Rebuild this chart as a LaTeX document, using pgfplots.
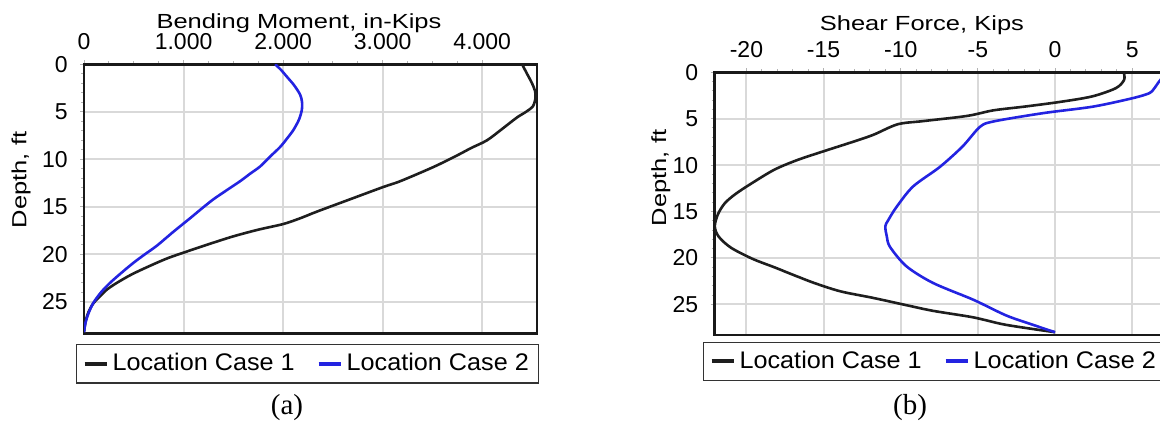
\documentclass[border=0pt]{standalone}
\usepackage{pgfplots}
\pgfplotsset{compat=1.18}
\usepackage{fontspec}
\setmainfont{Liberation Sans}
\newfontfamily\titlefont{Liberation Sans}[FakeStretch=1.25]
\newfontfamily\legfont{Liberation Sans}[FakeStretch=1.05]
\newfontfamily\capfont{Liberation Serif}
\definecolor{curveblue}{RGB}{35,35,225}
\definecolor{curveblack}{RGB}{30,30,30}
\pgfplotsset{
  myaxis/.style={
    scale only axis,
    y dir=reverse,
    ymin=0, ymax=28.3,
    ytick={0,5,10,15,20,25},
    yticklabels={0,5,10,15,20,25},
    xticklabel pos=right,
    xtick pos=right, ytick pos=left,
    tick align=outside,
    minor y tick num=4,
    grid=major,
    major grid style={gray!30, line width=1pt},
    axis line style={line width=1.3pt, black!90},
    major tick length=2pt, minor tick length=1.5pt,
    tick style={gray!60, line width=0.5pt},
    ticklabel style={font=\fontsize{11.5}{13}\selectfont, inner sep=0pt},
    xticklabel style={anchor=base, yshift=5.2pt},
    yticklabel style={anchor=east, xshift=-6pt},
    label style={font=\titlefont\fontsize{10.2}{12}\selectfont},
    legend columns=2,
    legend image code/.code={\draw[#1, line width=2pt] (0pt,0pt) -- (11pt,0pt);},
    legend style={draw=black!80, line width=0.6pt, font=\legfont\fontsize{12}{14}\selectfont,
      inner xsep=3pt, inner ysep=2.5pt, anchor=north west,
      /tikz/every even column/.append style={column sep=9pt}, cells={anchor=west}},
    every axis plot/.append style={smooth, tension=0.5, line width=1.3pt},
  }
}
\begin{document}
\begin{tikzpicture}
\useasboundingbox (0,0) rectangle (580pt,210.5pt);
\clip (0,0) rectangle (580pt,210.5pt);
% Panel (a)
\begin{axis}[myaxis,
  at={(42pt,43.85pt)}, anchor=south west,
  width=226.5pt, height=134.5pt,
  xmin=0, xmax=4550,
  xtick={0,1000,2000,3000,4000},
  xticklabels={0,1.000,2.000,3.000,4.000},
  minor x tick num=3,
  xlabel={Bending Moment, in-Kips},
  xlabel style={at={(axis description cs:0.4746,1)}, anchor=base, yshift=18pt},
  ylabel={Depth, ft},
  ylabel style={at={(axis description cs:-0.139,0.57)}, anchor=center},
  legend style={at={(0,0)}, xshift=-4pt, yshift=-5.35pt},
]
\addplot[curveblack] coordinates {
(4400,0) (4450,1) (4500,2) (4530,2.8) (4535,3.5) (4510,4.4) (4440,5.0) (4348,5.6)
(4200,6.8) (4047,8.0) (3890,8.8) (3745,9.6) (3511,10.8) (3176,12.3) (3008,12.9)
(2673,14.2) (2339,15.5) (2171,16.2) (2003,16.8) (1750,17.4) (1500,18.1) (1260,18.9)
(1032,19.7) (840,20.4) (663,21.2) (480,22.1) (329,23.0) (230,23.7) (161,24.4)
(90,25.2) (44,26.1) (15,27.1) (0,28.2)};
\addlegendentry{Location Case 1}
\addplot[curveblue] coordinates {
(1920,0) (1980,0.6) (2037,1.3) (2110,2.2) (2171,3.2) (2190,4.0) (2188,4.8) (2160,5.8)
(2104,6.9) (2040,7.8) (1970,8.7) (1870,9.7) (1769,10.75) (1670,11.5) (1568,12.3)
(1440,13.2) (1300,14.2) (1180,15.2) (1065,16.2) (900,17.6) (730,19.1) (610,20.0)
(495,20.9) (380,21.9) (261,23.0) (170,24.0) (94,25.1) (45,26.2) (15,27.2) (0,28.2)};
\addlegendentry{Location Case 2}
\end{axis}
% Panel (b)
\begin{axis}[myaxis,
  at={(357.25pt,43pt)}, anchor=south west,
  width=223.5pt, height=131.35pt,
  xmin=-22.07, xmax=6.9,
  xtick={-20,-15,-10,-5,0,5},
  xticklabels={-20,-15,-10,-5,0,5},
  minor x tick num=4,
  xlabel={Shear Force, Kips},
  xlabel style={at={(axis description cs:0.464,1)}, anchor=base, yshift=21pt},
  ylabel={Depth, ft},
  ylabel style={at={(axis description cs:-0.120,0.598)}, anchor=center},
  legend style={at={(0,0)}, xshift=-5.75pt, yshift=-3.35pt},
]
\addplot[curveblack] coordinates {
(4.45,0) (4.48,0.8) (3.95,1.7) (2.4,2.6) (0.28,3.2) (-2,3.7) (-4.0,4.1) (-5.7,4.7)
(-8.5,5.25) (-10.2,5.6) (-11.8,6.75) (-13.3,7.6) (-14.8,8.4) (-16.7,9.45) (-18.2,10.5)
(-19.7,12.0) (-20.7,13.1) (-21.4,14.1) (-21.85,15.3) (-22.05,16.6) (-21.8,17.7)
(-21.0,18.9) (-19.6,20.1) (-18.2,21.0) (-17.0,21.8) (-15.6,22.7) (-13.9,23.6)
(-11.8,24.3) (-9.6,25.1) (-7.9,25.7) (-5.3,26.4) (-3.2,27.2) (0,28.0)};
\addlegendentry{Location Case 1}
\addplot[curveblue] coordinates {
(7.3,0) (7.0,0.5) (6.74,1.0) (6.4,1.8) (6.1,2.26) (5.0,2.8) (2.45,3.7) (-0.77,4.4)
(-4.0,5.3) (-4.88,5.9) (-6.0,8.0) (-7.47,10.2) (-9.2,12.3) (-10.27,14.5) (-10.8,15.9)
(-11.0,16.6) (-10.9,17.7) (-10.7,18.8) (-9.63,20.9) (-7.9,22.7) (-5.3,24.5)
(-3.16,26.2) (-1.44,27.2) (0,28.0)};
\addlegendentry{Location Case 2}
\end{axis}
\node[font=\capfont\fontsize{14.5}{16}\selectfont, anchor=center] at (143.5pt,6.5pt) {(a)};
\node[font=\capfont\fontsize{14.5}{16}\selectfont, anchor=center] at (455pt,6.5pt) {(b)};
\end{tikzpicture}
\end{document}
